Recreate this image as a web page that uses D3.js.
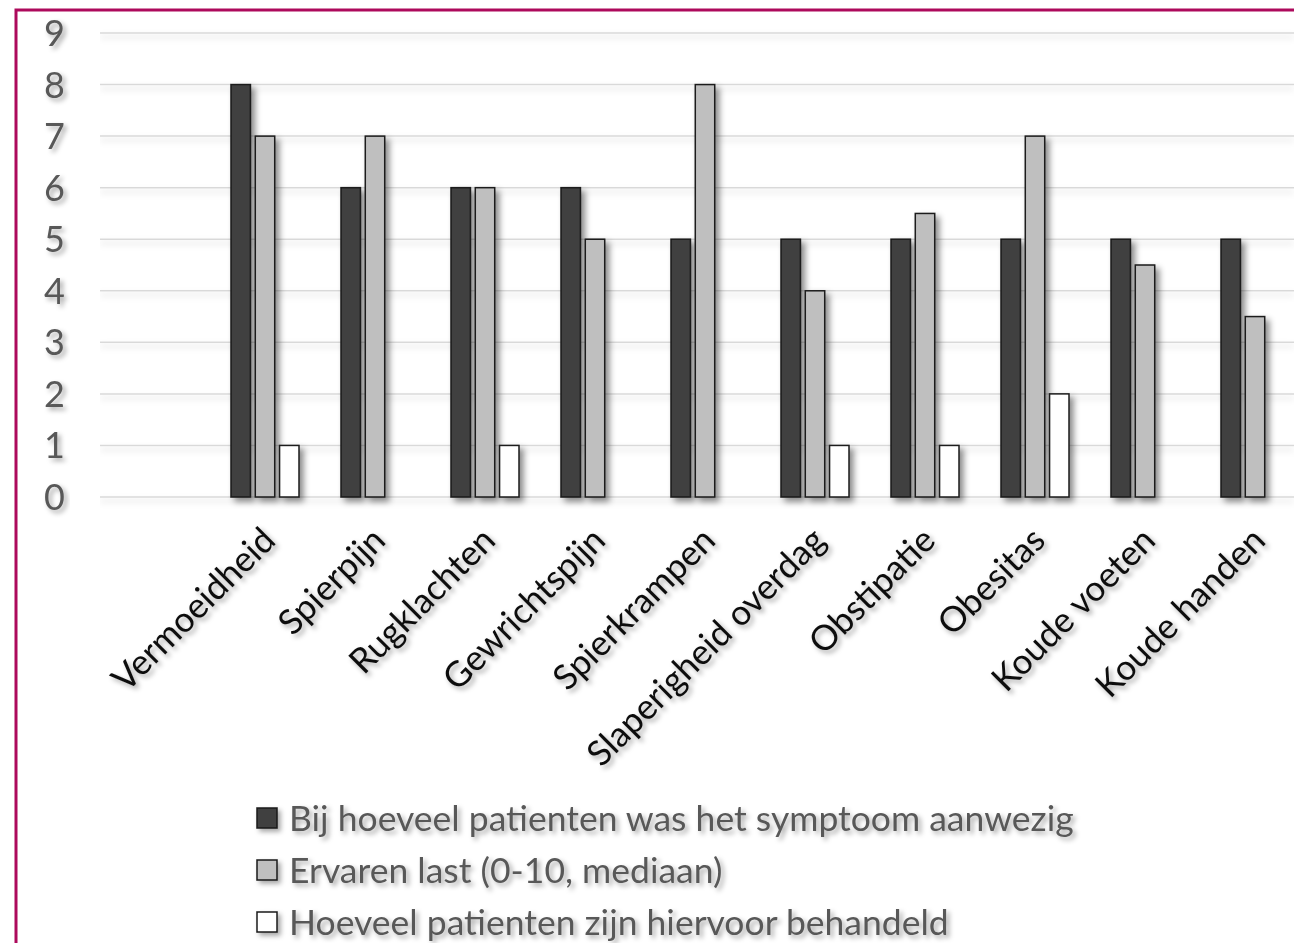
<!DOCTYPE html>
<html>
<head>
<meta charset="utf-8">
<script src="https://cdn.jsdelivr.net/npm/d3@7"></script>
<style>
  html, body { margin: 0; padding: 0; background: #fff; overflow: hidden; }
  svg { display: block; }
</style>
</head>
<body>
<div id="chart"></div>
<script>
// symptoms and the three series
var categories = ["Vermoeidheid", "Spierpijn", "Rugklachten", "Gewrichtspijn", "Spierkrampen",
    "Slaperigheid overdag", "Obstipatie", "Obesitas", "Koude voeten", "Koude handen"];
var aanwezig = [8, 6, 6, 6, 5, 5, 5, 5, 5, 5];
var last = [7, 7, 6, 5, 8, 4, 5.5, 7, 4.5, 3.5];
var behandeld = [1, 0, 1, 0, 0, 1, 1, 2, 0, 0];
var seriesNames = ["Bij hoeveel patienten was het symptoom aanwezig",
    "Ervaren last (0-10, mediaan)",
    "Hoeveel patienten zijn hiervoor behandeld"];
var seriesColors = ["#404040", "#bfbfbf", "#ffffff"];
var yTicks = [0, 1, 2, 3, 4, 5, 6, 7, 8, 9];

var W = 1294, H = 943;
var font = "Lato, 'Open Sans', sans-serif";

var svg = d3.select("#chart").append("svg")
    .attr("width", W)
    .attr("height", H);

var defs = svg.append("defs");
defs.append("filter").attr("id", "shadow")
    .attr("x", "-20%").attr("y", "-20%").attr("width", "160%").attr("height", "160%")
    .append("feDropShadow")
    .attr("dx", 4).attr("dy", 4).attr("stdDeviation", 3)
    .attr("flood-color", "#000").attr("flood-opacity", 0.45);
defs.append("filter").attr("id", "tshadow")
    .attr("x", "-10%").attr("y", "-30%").attr("width", "130%").attr("height", "180%")
    .append("feDropShadow")
    .attr("dx", 3).attr("dy", 3).attr("stdDeviation", 2.5)
    .attr("flood-color", "#000").attr("flood-opacity", 0.35);
defs.append("filter").attr("id", "gshadow")
    .attr("x", "0%").attr("y", "-300%").attr("width", "100%").attr("height", "800%")
    .append("feDropShadow")
    .attr("dx", 0).attr("dy", 4).attr("stdDeviation", 3)
    .attr("flood-color", "#000").attr("flood-opacity", 0.18);

// frame
svg.append("rect")
    .attr("x", 16).attr("y", 10)
    .attr("width", W + 20).attr("height", H + 20)
    .attr("fill", "#fff")
    .attr("stroke", "#ad0a5c")
    .attr("stroke-width", 3);

var y = d3.scaleLinear().domain([0, 9]).range([497, 33]);
var x0 = d3.scaleBand().domain(categories).range([210, 1310]).paddingInner(0);
var x1 = d3.scaleBand().domain([0, 1, 2]).range([21, 89]).paddingInner(0.2);

// grid
svg.append("g").attr("filter", "url(#gshadow)")
    .selectAll("line").data(yTicks).enter().append("line")
    .attr("x1", 100).attr("x2", W)
    .attr("y1", function (d) { return y(d); })
    .attr("y2", function (d) { return y(d); })
    .attr("stroke", "#d9d9d9")
    .attr("stroke-width", 1.5);

// y labels
svg.append("g").attr("filter", "url(#tshadow)")
    .selectAll("text").data(yTicks).enter().append("text")
    .attr("x", 65)
    .attr("y", function (d) { return y(d); })
    .attr("dy", "0.36em")
    .attr("text-anchor", "end")
    .attr("font-family", font)
    .attr("font-size", 36)
    .attr("fill", "#595959")
    .text(function (d) { return d; });

// bars
var data = categories.map(function (c, i) {
    return { name: c, values: [aanwezig[i], last[i], behandeld[i]] };
});

var groups = svg.append("g").attr("filter", "url(#shadow)")
    .selectAll("g").data(data).enter().append("g")
    .attr("transform", function (d) { return "translate(" + x0(d.name) + ",0)"; });

groups.selectAll("rect")
    .data(function (d) {
        return d.values.map(function (v, i) { return { i: i, v: v }; })
            .filter(function (e) { return e.v > 0; });
    })
    .enter().append("rect")
    .attr("x", function (d) { return x1(d.i); })
    .attr("width", x1.bandwidth())
    .attr("y", function (d) { return y(d.v); })
    .attr("height", function (d) { return y(0) - y(d.v); })
    .attr("fill", function (d) { return seriesColors[d.i]; })
    .attr("stroke", "#1a1a1a")
    .attr("stroke-width", 1.5);

// category labels
svg.append("g").attr("filter", "url(#tshadow)")
    .selectAll("text").data(categories).enter().append("text")
    .attr("transform", function (d) {
        return "translate(" + (x0(d) + x0.bandwidth() / 2 - 5) + ",525) rotate(-45)";
    })
    .attr("dy", "0.7em")
    .attr("text-anchor", "end")
    .attr("font-family", font)
    .attr("font-size", 35)
    .attr("fill", "#111")
    .text(function (d) { return d; });

// legend
var legend = svg.append("g").attr("filter", "url(#tshadow)")
    .selectAll("g").data(seriesNames).enter().append("g")
    .attr("transform", function (d, i) { return "translate(257," + (818 + i * 52) + ")"; });

legend.append("rect")
    .attr("x", 0).attr("y", -10)
    .attr("width", 20).attr("height", 20)
    .attr("fill", function (d, i) { return seriesColors[i]; })
    .attr("stroke", "#1a1a1a")
    .attr("stroke-width", 1.5);

legend.append("text")
    .attr("x", 32).attr("y", 0)
    .attr("dy", "0.36em")
    .attr("font-family", font)
    .attr("font-size", 35.5)
    .attr("fill", "#595959")
    .text(function (d) { return d; });
</script>
</body>
</html>
